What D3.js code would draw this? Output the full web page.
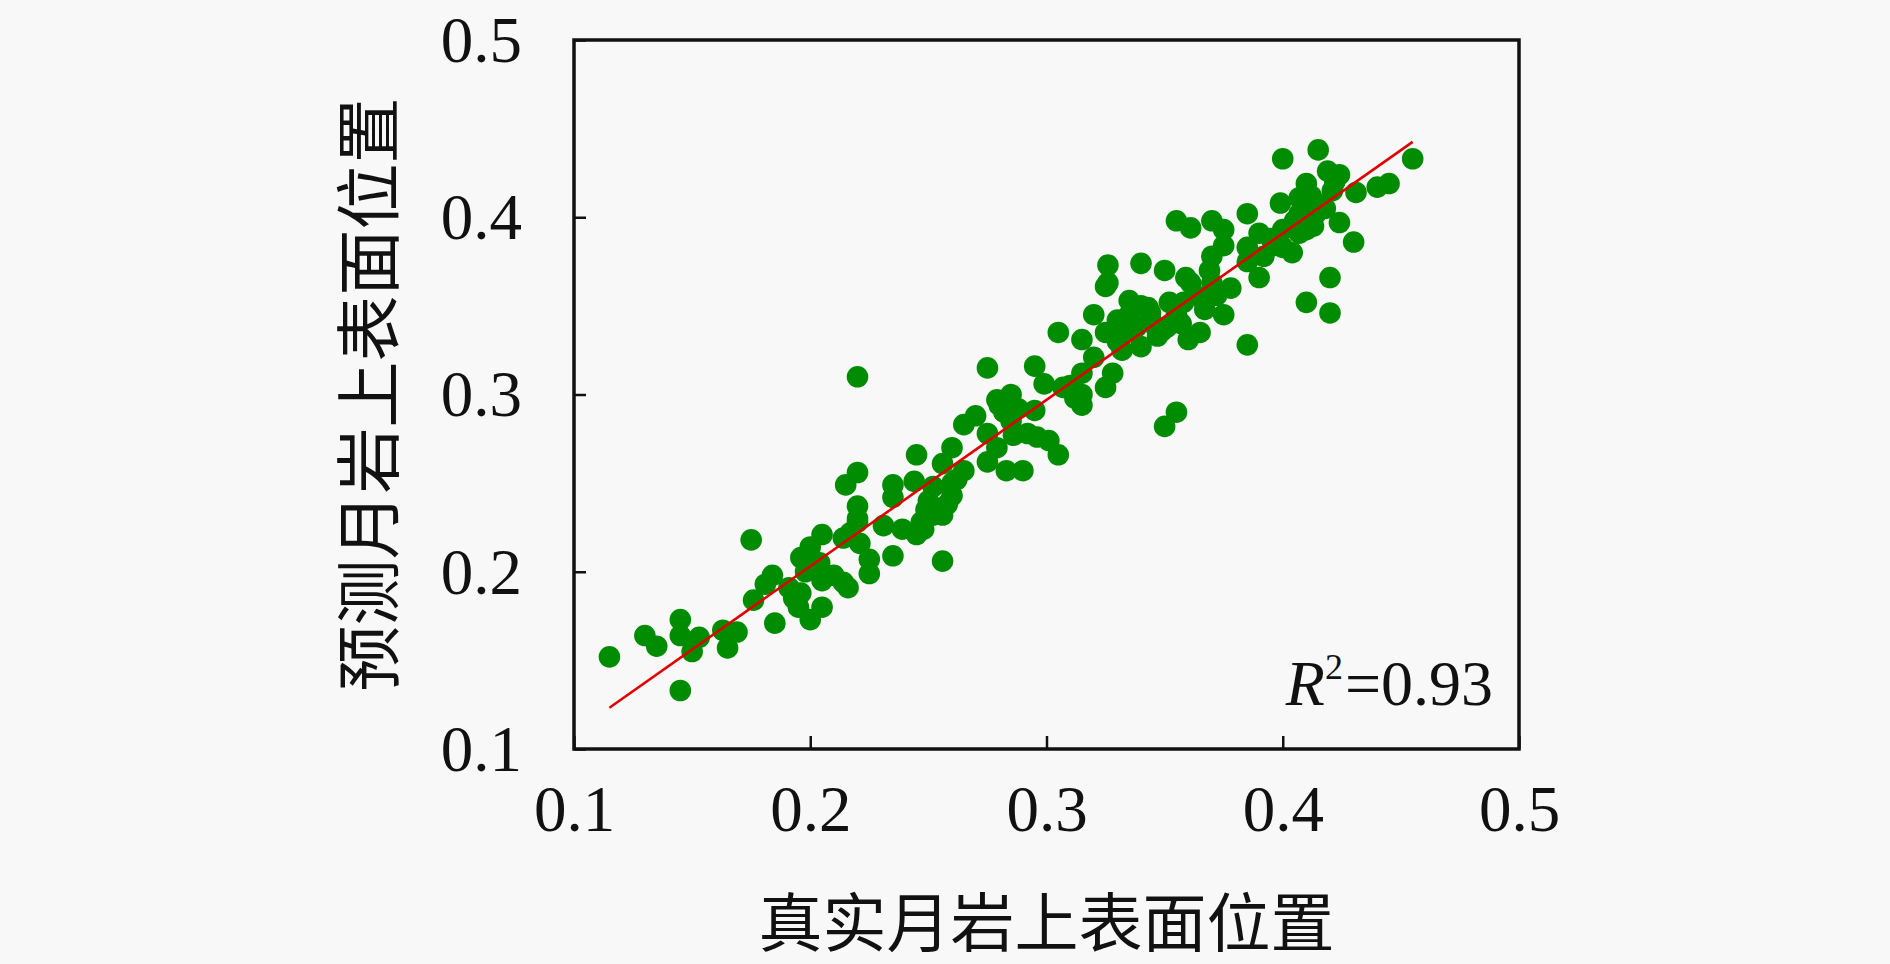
<!DOCTYPE html>
<html>
<head>
<meta charset="utf-8">
<script src="https://cdn.jsdelivr.net/npm/d3@7"></script>
<style>
  body { margin: 0; background: #f8f8f8; }
  svg { display: block; }
</style>
</head>
<body>
<svg id="chart" width="1890" height="964"></svg>
<script>
// ticks
const xTicks = [0.1, 0.2, 0.3, 0.4, 0.5];
const yTicks = [0.1, 0.2, 0.3, 0.4, 0.5];

// 真实值 (x) / 预测值 (y)
const trueVals = [
  0.115, 0.175, 0.130, 0.135, 0.145, 0.145, 0.150, 0.153, 0.145, 0.165,
  0.169, 0.163, 0.176, 0.181, 0.184, 0.185, 0.196, 0.200, 0.205, 0.195,
  0.200, 0.205, 0.196, 0.205, 0.214, 0.216, 0.203, 0.214, 0.220, 0.191,
  0.220, 0.215, 0.245, 0.260, 0.256, 0.265, 0.235, 0.235, 0.244, 0.252,
  0.260, 0.260, 0.220, 0.220, 0.204, 0.217, 0.221, 0.225, 0.225, 0.235,
  0.231, 0.239, 0.248, 0.245, 0.252, 0.256, 0.249, 0.256, 0.265, 0.270,
  0.280, 0.275, 0.275, 0.279, 0.286, 0.283, 0.290, 0.292,
  0.325, 0.320, 0.305, 0.315, 0.325, 0.330, 0.335, 0.343, 0.334, 0.340,
  0.320, 0.315, 0.328, 0.325, 0.315, 0.315, 0.295, 0.299, 0.307, 0.275,
  0.285, 0.279, 0.295, 0.282, 0.296, 0.301, 0.305, 0.355, 0.350, 0.349,
  0.358, 0.360, 0.361,
  0.355, 0.361, 0.370, 0.375, 0.375, 0.385, 0.390, 0.385, 0.385, 0.390,
  0.370, 0.369, 0.370, 0.359, 0.340, 0.350, 0.326, 0.326, 0.352, 0.365,
  0.344, 0.351, 0.357, 0.365, 0.375, 0.385, 0.410, 0.420, 0.420, 0.424,
  0.430, 0.396, 0.404, 0.407, 0.399, 0.407, 0.414, 0.410, 0.421, 0.431,
  0.400, 0.415, 0.455, 0.419, 0.424, 0.440, 0.445, 0.414, 0.407, 0.400,
  0.410, 0.400,
  0.220,
  // dense clusters
  0.335, 0.338, 0.345, 0.330, 0.340, 0.332, 0.347, 0.355,
  0.405, 0.413, 0.418, 0.422, 0.412, 0.395, 0.392,
  0.372, 0.378, 0.367,
  0.250, 0.258, 0.247, 0.262,
  0.198, 0.210, 0.193, 0.285, 0.288, 0.310, 0.312
];
const predVals = [
  0.152, 0.218, 0.164, 0.158, 0.173, 0.164, 0.155, 0.163, 0.133, 0.157,
  0.166, 0.167, 0.184, 0.193, 0.198, 0.171, 0.208, 0.214, 0.221, 0.180,
  0.173, 0.180, 0.188, 0.195, 0.194, 0.191, 0.201, 0.219, 0.228, 0.191,
  0.256, 0.249, 0.266, 0.270, 0.261, 0.257, 0.249, 0.242, 0.251, 0.248,
  0.250, 0.243, 0.237, 0.230, 0.205, 0.222, 0.216, 0.207, 0.199, 0.209,
  0.226, 0.224, 0.224, 0.221, 0.232, 0.232, 0.235, 0.206, 0.283, 0.288,
  0.294, 0.278, 0.262, 0.270, 0.277, 0.257, 0.257, 0.278,
  0.361, 0.345, 0.335, 0.331, 0.335, 0.342, 0.353, 0.349, 0.335, 0.327,
  0.321, 0.312, 0.312, 0.304, 0.300, 0.294, 0.316, 0.306, 0.304, 0.315,
  0.300, 0.297, 0.291, 0.290, 0.276, 0.274, 0.266, 0.290, 0.282, 0.336,
  0.352, 0.331, 0.363,
  0.398, 0.394, 0.398, 0.393, 0.384, 0.402, 0.391, 0.383, 0.375, 0.366,
  0.378, 0.370, 0.363, 0.366, 0.374, 0.370, 0.373, 0.363, 0.352, 0.355,
  0.346, 0.338, 0.340, 0.335, 0.345, 0.328, 0.352, 0.366, 0.346, 0.397,
  0.386, 0.384, 0.380, 0.391, 0.408, 0.411, 0.402, 0.419, 0.415, 0.414,
  0.433, 0.438, 0.433, 0.426, 0.424, 0.417, 0.419, 0.408, 0.402, 0.393,
  0.393, 0.383,
  0.310,
  0.345, 0.338, 0.340, 0.330, 0.350, 0.325, 0.333, 0.345,
  0.398, 0.395, 0.405, 0.420, 0.412, 0.388, 0.378,
  0.356, 0.360, 0.348,
  0.240, 0.238, 0.228, 0.252,
  0.200, 0.198, 0.185, 0.285, 0.292, 0.305, 0.298
];

// 拟合直线
const fitSlope = 0.939;
const fitIntercept = 0.0153;
const r2Text = "0.93";

const xLabel = "真实月岩上表面位置";
const yLabel = "预测月岩上表面位置";

const points = trueVals.map((v, i) => ({ x: v, y: predVals[i] }));

const margin = { left: 574, top: 40, right: 371, bottom: 215 };
const W = 1890, H = 964;
const pw = W - margin.left - margin.right;
const ph = H - margin.top - margin.bottom;

const svg = d3.select("#chart");
const g = svg.append("g").attr("transform", `translate(${margin.left},${margin.top})`);

const x = d3.scaleLinear().domain([0.1, 0.5]).range([0, pw]);
const y = d3.scaleLinear().domain([0.1, 0.5]).range([ph, 0]);

const numFont = "'Liberation Serif', 'DejaVu Serif', serif";
const cjkFont = "'Noto Sans CJK SC', sans-serif";

// dots
g.append("g")
  .selectAll("circle")
  .data(points)
  .join("circle")
  .attr("cx", d => x(d.x))
  .attr("cy", d => y(d.y))
  .attr("r", 10.8)
  .attr("fill", "#008c00");

// fit line
const xr = d3.extent(trueVals);
g.append("line")
  .attr("x1", x(xr[0]))
  .attr("y1", y(fitSlope * xr[0] + fitIntercept))
  .attr("x2", x(xr[1]))
  .attr("y2", y(fitSlope * xr[1] + fitIntercept))
  .attr("stroke", "#e00000")
  .attr("stroke-width", 2.6);

// axes (inner ticks)
const xAxis = d3.axisBottom(x).tickValues(xTicks).tickSize(-13).tickFormat(d3.format(".1f")).tickPadding(36);
const yAxis = d3.axisLeft(y).tickValues(yTicks).tickSize(-12).tickFormat(d3.format(".1f")).tickPadding(52);

const gx = g.append("g").attr("transform", `translate(0,${ph})`).call(xAxis);
const gy = g.append("g").call(yAxis);

[gx, gy].forEach(a => {
  a.select(".domain").remove();
  a.selectAll(".tick line").attr("stroke", "#111").attr("stroke-width", 2.5);
  a.selectAll(".tick text")
    .attr("fill", "#111")
    .attr("font-family", numFont)
    .attr("font-size", 65);
});
gx.selectAll(".tick text").attr("dy", "0.71em");
gy.selectAll(".tick text").attr("dy", "0.33em");

// frame
g.append("rect")
  .attr("x", 0).attr("y", 0)
  .attr("width", pw).attr("height", ph)
  .attr("fill", "none")
  .attr("stroke", "#111")
  .attr("stroke-width", 3.5);

// R^2 label
const r2 = g.append("text")
  .attr("x", pw - 26)
  .attr("y", ph - 44)
  .attr("text-anchor", "end")
  .attr("font-family", numFont)
  .attr("font-size", 64)
  .attr("fill", "#111");
r2.append("tspan").attr("font-style", "italic").text("R");
r2.append("tspan").attr("font-size", 36).attr("dy", -26).text("2");
r2.append("tspan").attr("dy", 26).attr("dx", 2).text("=" + r2Text);

// axis titles
svg.append("text")
  .attr("x", margin.left + pw / 2)
  .attr("y", 918)
  .attr("text-anchor", "middle")
  .attr("dominant-baseline", "central")
  .attr("font-family", cjkFont)
  .attr("font-size", 64)
  .attr("fill", "#111")
  .text(xLabel);

svg.append("text")
  .attr("transform", `translate(364,${margin.top + ph / 2}) rotate(-90)`)
  .attr("text-anchor", "middle")
  .attr("dominant-baseline", "central")
  .attr("font-family", cjkFont)
  .attr("font-size", 66)
  .attr("fill", "#111")
  .text(yLabel);
</script>
</body>
</html>
